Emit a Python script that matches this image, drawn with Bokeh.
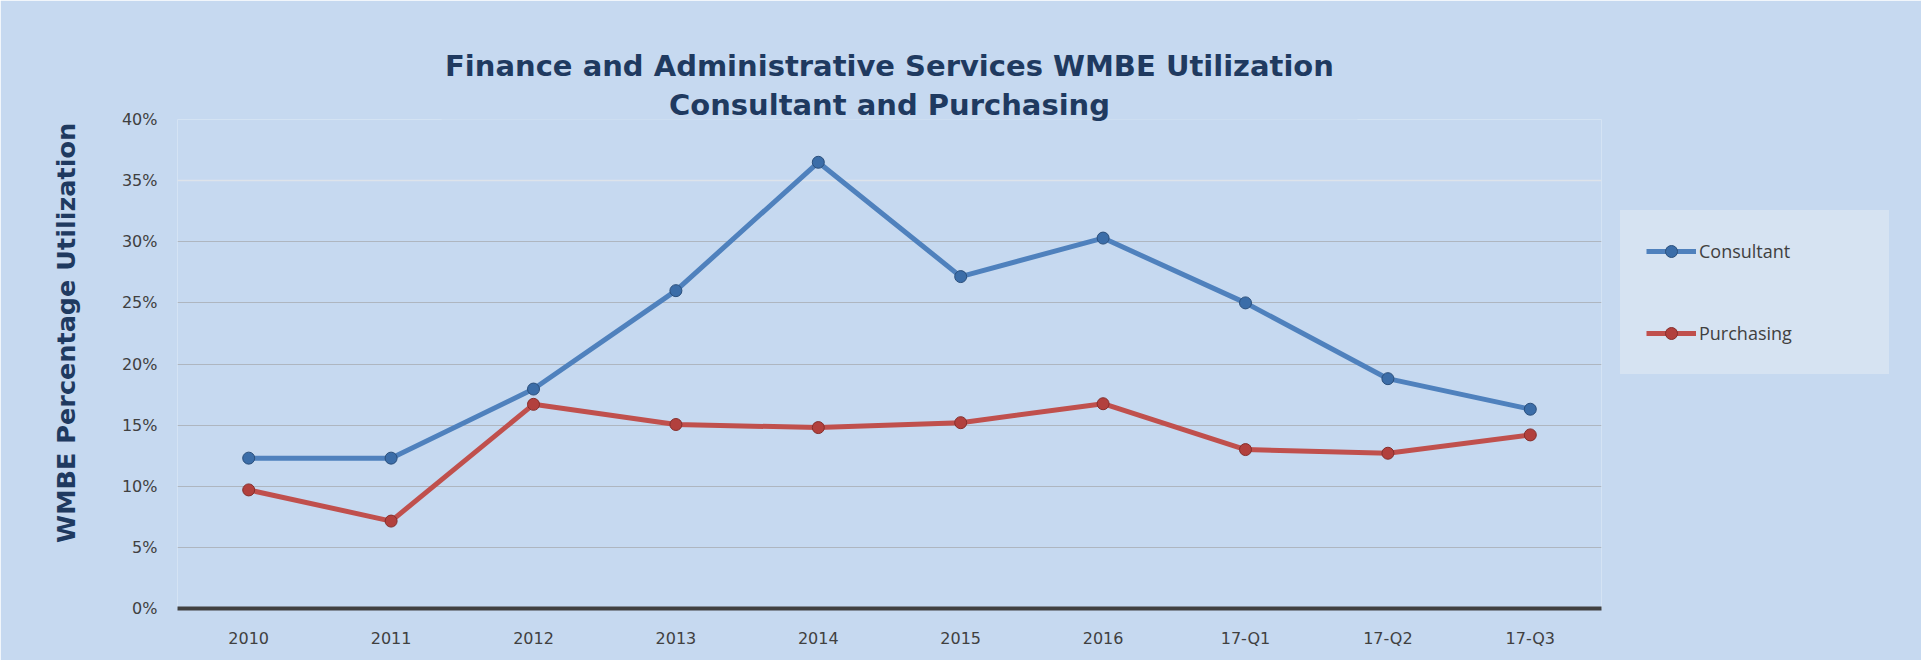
from bokeh.plotting import figure
from bokeh.models import (Range1d, FactorRange, PrintfTickFormatter, Legend, LegendItem,
                          BoxAnnotation, Grid, FixedTicker, ColumnDataSource, Title)
from bokeh.embed import file_html
from bokeh.resources import INLINE

categories = ["2010", "2011", "2012", "2013", "2014", "2015", "2016", "17-Q1", "17-Q2", "17-Q3"]
consultant = [12.3, 12.3, 17.95, 26.0, 36.5, 27.15, 30.3, 25.0, 18.8, 16.3]
purchasing = [9.7, 7.15, 16.7, 15.05, 14.8, 15.2, 16.75, 13.0, 12.7, 14.2]
y_ticks = [0, 5, 10, 15, 20, 25, 30, 35, 40]

title_line1 = "Finance and Administrative Services WMBE Utilization"
title_line2 = "Consultant and Purchasing"
y_title = "WMBE Percentage Utilization"

BG = "#C6D9F0"
NAVY = "#1F3A60"
BLUE = "#4F81BD"
RED = "#C0504D"
LEG_BG = "#D6E3F2"

src = ColumnDataSource(dict(cat=categories, c=consultant, p=purchasing))

p = figure(x_range=FactorRange(*categories), y_range=Range1d(0, 40),
           frame_width=1424, frame_height=489,
           min_border_left=177, min_border_right=316, min_border_top=119, min_border_bottom=52,
           output_backend="svg", toolbar_location=None)
p.background_fill_color = BG
p.border_fill_color = BG
p.outline_line_color = None

# axes
p.yaxis.ticker = FixedTicker(ticks=y_ticks)
p.yaxis.formatter = PrintfTickFormatter(format="%d%%")
p.yaxis.axis_line_color = None
p.yaxis.major_tick_line_color = None
p.yaxis.minor_tick_line_color = None
p.yaxis.major_label_standoff = 14
p.yaxis.major_label_text_font = "DejaVu Sans"
p.yaxis.major_label_text_font_size = "16px"
p.yaxis.major_label_text_color = "#404040"
# leading no-break spaces nudge the centred label upward, as in the original
p.yaxis.axis_label = "\u00a0" * 7 + y_title
p.yaxis.axis_label_standoff = 38
p.yaxis.axis_label_text_font = "DejaVu Sans"
p.yaxis.axis_label_text_font_style = "bold"
p.yaxis.axis_label_text_font_size = "25.5px"
p.yaxis.axis_label_text_color = NAVY

p.xaxis.axis_line_color = "#404040"
p.xaxis.axis_line_width = 4
p.xaxis.major_tick_line_color = None
p.xaxis.minor_tick_line_color = None
p.xaxis.major_label_standoff = 14
p.xaxis.major_label_text_font = "DejaVu Sans"
p.xaxis.major_label_text_font_size = "16px"
p.xaxis.major_label_text_color = "#404040"

# grids
p.xgrid.grid_line_color = None
p.ygrid.ticker = FixedTicker(ticks=[5, 10, 15, 20, 25, 30])
p.ygrid.grid_line_color = "#AEB6C0"
p.ygrid.grid_line_width = 1
top_grid = Grid(dimension=1, ticker=FixedTicker(ticks=[35, 40]), grid_line_color="#DDE3EA", grid_line_width=1.5)
p.add_layout(top_grid)

# gap in the top gridline behind the title
gap = BoxAnnotation(left=264, right=1180, bottom=485, top=495,
                    left_units="screen", right_units="screen", top_units="screen", bottom_units="screen",
                    fill_color=BG, fill_alpha=1, line_color=None, level="underlay")
p.add_layout(gap)

# series
lc = p.line("cat", "c", source=src, line_color=BLUE, line_width=5)
sc = p.scatter("cat", "c", source=src, size=12, fill_color="#3B6DA8", line_color="#2A4F7C", line_width=1)
lp = p.line("cat", "p", source=src, line_color=RED, line_width=5)
sp = p.scatter("cat", "p", source=src, size=12, fill_color="#B2403D", line_color="#852E2B", line_width=1)

legend = Legend(items=[LegendItem(label="Consultant", renderers=[lc, sc]),
                       LegendItem(label="Purchasing", renderers=[lp, sp])],
                location=(19, 234), orientation="vertical", margin=0,
                glyph_width=50, glyph_height=30, padding=25, spacing=52, label_standoff=3,
                label_width=164,
                label_text_font="Open Sans", label_text_font_size="18px", label_text_color="#404040",
                background_fill_color=LEG_BG, background_fill_alpha=1,
                border_line_color=LEG_BG, border_line_width=1)
p.add_layout(legend, "right")

# title (two lines, stacked above the plot)
t2 = Title(text=title_line2, align="center", offset=10, standoff=-4, text_font="DejaVu Sans",
           text_font_style="bold", text_font_size="29px", text_color=NAVY)
t1 = Title(text=title_line1, align="center", offset=10, standoff=10, text_font="DejaVu Sans",
           text_font_style="bold", text_font_size="29px", text_color=NAVY)
p.add_layout(t2, "above")
p.add_layout(t1, "above")

open("out.html", "w").write(file_html(p, INLINE))
